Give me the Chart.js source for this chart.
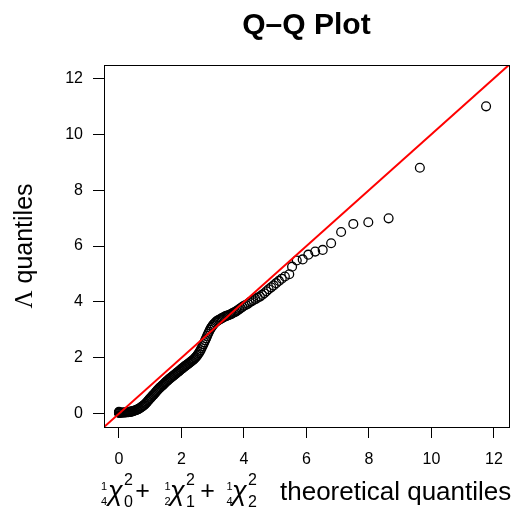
<!DOCTYPE html>
<html><head><meta charset="utf-8">
<script src="https://cdn.jsdelivr.net/npm/chart.js@4/dist/chart.umd.min.js"></script>
<style>html,body{margin:0;padding:0;background:#fff;overflow:hidden}</style>
</head><body>
<canvas id="c" width="515" height="513" style="display:block;width:515px;height:513px"></canvas>
<script>
// ---- data ----
const xTicks = [0, 2, 4, 6, 8, 10, 12];
const yTicks = [0, 2, 4, 6, 8, 10, 12];
const theoreticalQuantiles = [
  0, 0, 0, 0, 0,
  0.03, 0.06, 0.09, 0.12, 0.15, 0.18, 0.21, 0.24, 0.27, 0.30,
  0.33, 0.36, 0.39, 0.42, 0.45, 0.48, 0.51, 0.54, 0.57, 0.60,
  0.63, 0.66, 0.69, 0.72, 0.75, 0.78, 0.81, 0.84, 0.87, 0.90,
  0.93, 0.96, 0.99, 1.02, 1.05, 1.08, 1.11, 1.14, 1.17, 1.20,
  1.23, 1.26, 1.29, 1.32, 1.35, 1.38, 1.41, 1.44, 1.47, 1.50,
  1.53, 1.56, 1.59, 1.62, 1.65, 1.68, 1.71, 1.74, 1.77, 1.80,
  1.83, 1.86, 1.89, 1.92, 1.95, 1.98, 2.01, 2.04, 2.07, 2.10,
  2.13, 2.16, 2.19, 2.22, 2.25, 2.28, 2.31, 2.34, 2.37, 2.40,
  2.43, 2.46, 2.49, 2.52, 2.55, 2.58, 2.61, 2.64, 2.67, 2.70,
  2.73, 2.76, 2.79, 2.82, 2.85, 2.88, 2.91, 2.94, 2.97, 3.00,
  3.04, 3.08, 3.12, 3.16, 3.20, 3.24, 3.28, 3.32, 3.36, 3.40,
  3.44, 3.48, 3.52, 3.56, 3.60, 3.64, 3.68, 3.72, 3.76, 3.80,
  3.85, 3.90, 3.95, 4.00, 4.06, 4.12, 4.18, 4.24, 4.30, 4.37,
  4.44, 4.51, 4.58, 4.65, 4.72, 4.79, 4.87, 4.95, 5.03, 5.12,
  5.21, 5.31, 5.45, 5.54, 5.69, 5.88, 6.06, 6.28, 6.52, 6.79,
  7.11, 7.50, 7.98, 8.63, 9.63, 11.75
];
const lambdaQuantiles = [
  0.02, 0.03, 0.04, 0.05, 0.06,
  0.03, 0.03, 0.03, 0.04, 0.04, 0.04, 0.04, 0.05, 0.05, 0.05,
  0.06, 0.06, 0.07, 0.08, 0.09, 0.10, 0.11, 0.12, 0.14, 0.15,
  0.17, 0.19, 0.21, 0.24, 0.26, 0.29, 0.31, 0.35, 0.38, 0.42,
  0.46, 0.50, 0.54, 0.57, 0.61, 0.65, 0.68, 0.72, 0.76, 0.80,
  0.84, 0.87, 0.91, 0.94, 0.97, 1.00, 1.03, 1.06, 1.10, 1.13,
  1.16, 1.19, 1.22, 1.25, 1.28, 1.30, 1.33, 1.36, 1.38, 1.41,
  1.44, 1.47, 1.49, 1.52, 1.55, 1.58, 1.61, 1.63, 1.66, 1.69,
  1.71, 1.74, 1.76, 1.79, 1.81, 1.84, 1.87, 1.89, 1.92, 1.95,
  1.99, 2.02, 2.06, 2.11, 2.16, 2.21, 2.27, 2.34, 2.41, 2.48,
  2.55, 2.63, 2.70, 2.78, 2.86, 2.93, 3.00, 3.06, 3.11, 3.16,
  3.21, 3.26, 3.30, 3.33, 3.36, 3.38, 3.41, 3.43, 3.46, 3.48,
  3.50, 3.51, 3.53, 3.55, 3.57, 3.60, 3.62, 3.64, 3.67, 3.70,
  3.74, 3.78, 3.82, 3.86, 3.89, 3.93, 3.98, 4.02, 4.06, 4.10,
  4.15, 4.19, 4.25, 4.31, 4.38, 4.45, 4.52, 4.59, 4.67, 4.75,
  4.83, 4.91, 4.99, 5.26, 5.48, 5.52, 5.69, 5.80, 5.86, 6.10,
  6.50, 6.79, 6.85, 6.99, 8.80, 11.00
];
const axisMin = -0.48, axisMax = 12.48;
const refLineEnds = [-1, 14];   // the y = x reference line

// ---- build chart ----
const points = theoreticalQuantiles.map((x, i) => ({ x: x, y: lambdaQuantiles[i] }));
const refLine = refLineEnds.map(v => ({ x: v, y: v }));
const SANS = "'Liberation Sans', Arial, Helvetica, sans-serif";
const SERIF = "'Liberation Serif', 'Times New Roman', serif";

const decor = {
  id: 'decor',
  afterDraw(chart) {
    const ctx = chart.ctx, a = chart.chartArea;
    ctx.save();
    // box
    ctx.strokeStyle = '#000'; ctx.lineWidth = 1;
    ctx.strokeRect(Math.round(a.left) + 0.5, Math.round(a.top) + 0.5,
                   Math.round(a.right - a.left), Math.round(a.bottom - a.top));
    ctx.fillStyle = '#000';
    // main title
    const cx = (a.left + a.right) / 2;
    ctx.font = "bold 30px " + SANS;
    ctx.textAlign = 'center'; ctx.textBaseline = 'alphabetic';
    ctx.fillText('Q\u2013Q Plot', cx, 33.5);
    // y title
    ctx.save();
    ctx.translate(32, (a.top + a.bottom) / 2);
    ctx.rotate(-Math.PI / 2);
    const q = ' quantiles';
    ctx.font = "25px " + SERIF;
    const lw = ctx.measureText('\u039B').width;
    ctx.font = "25px " + SANS;
    const qw = ctx.measureText(q).width;
    let sx = -(lw + qw) / 2;
    ctx.textAlign = 'left';
    ctx.font = "25px " + SERIF;
    ctx.fillText('\u039B', sx, 0);
    ctx.font = "25px " + SANS;
    ctx.fillText(q, sx + lw, 0);
    ctx.restore();
    // x title (math expression)
    const base = 500;
    ctx.textAlign = 'center';
    const frac = (x, num, den) => {
      ctx.font = "11px " + SANS;
      ctx.fillText(num, x, 490);
      ctx.fillText(den, x, 505);
    };
    const chi = (x, sup, sub) => {
      ctx.textAlign = 'left';
      ctx.font = "italic 27px " + SANS;
      ctx.fillText('\u03C7', x, base);
      ctx.font = "16px " + SANS;
      ctx.fillText(sup, x + 16, 485);
      ctx.fillText(sub, x + 16, 507);
      ctx.textAlign = 'center';
    };
    frac(104, '1', '4');
    chi(108, '2', '0');
    ctx.font = "25px " + SANS; ctx.fillText('+', 142.5, 499);
    frac(167.5, '1', '2');
    chi(170, '2', '1');
    ctx.font = "25px " + SANS; ctx.fillText('+', 207.5, 499);
    frac(229.5, '1', '4');
    chi(232, '2', '2');
    ctx.textAlign = 'left';
    ctx.font = "26px " + SANS;
    ctx.fillText('theoretical quantiles', 280, 499.5);
    ctx.restore();
  }
};

const axisCommon = (ticksArr, isX) => ({
  type: 'linear',
  position: isX ? 'bottom' : 'left',
  min: axisMin, max: axisMax,
  afterBuildTicks: s => { s.ticks = ticksArr.map(v => ({ value: v })); },
  afterFit: s => { if (isX) s.height = 86; else s.width = 104; },
  ticks: {
    color: '#000', font: { family: SANS, size: 16 },
    padding: isX ? 12 : 10, maxRotation: 0, autoSkip: false,
    callback: v => String(v)
  },
  grid: { display: true, drawOnChartArea: false, drawTicks: true, tickLength: 11, color: '#000', lineWidth: 1 },
  border: { display: true, color: '#000', width: 1 },
  title: { display: false }
});

new Chart(document.getElementById('c'), {
  data: {
    datasets: [
      { type: 'line', data: refLine, borderColor: '#ff0000', borderWidth: 2, pointRadius: 0, fill: false, clip: 0 },
      { type: 'scatter', data: points, pointStyle: 'circle', pointRadius: 4.4, borderColor: '#000',
        backgroundColor: 'rgba(0,0,0,0)', pointBorderWidth: 1.3, borderWidth: 1.3 }
    ]
  },
  options: {
    responsive: false, animation: false, devicePixelRatio: 1,
    layout: { padding: { top: 65, right: 5, left: 0, bottom: 0 } },
    plugins: { legend: { display: false }, title: { display: false }, tooltip: { enabled: false } },
    events: [],
    scales: { x: axisCommon(xTicks, true), y: axisCommon(yTicks, false) }
  },
  plugins: [decor]
});
</script>
</body></html>
